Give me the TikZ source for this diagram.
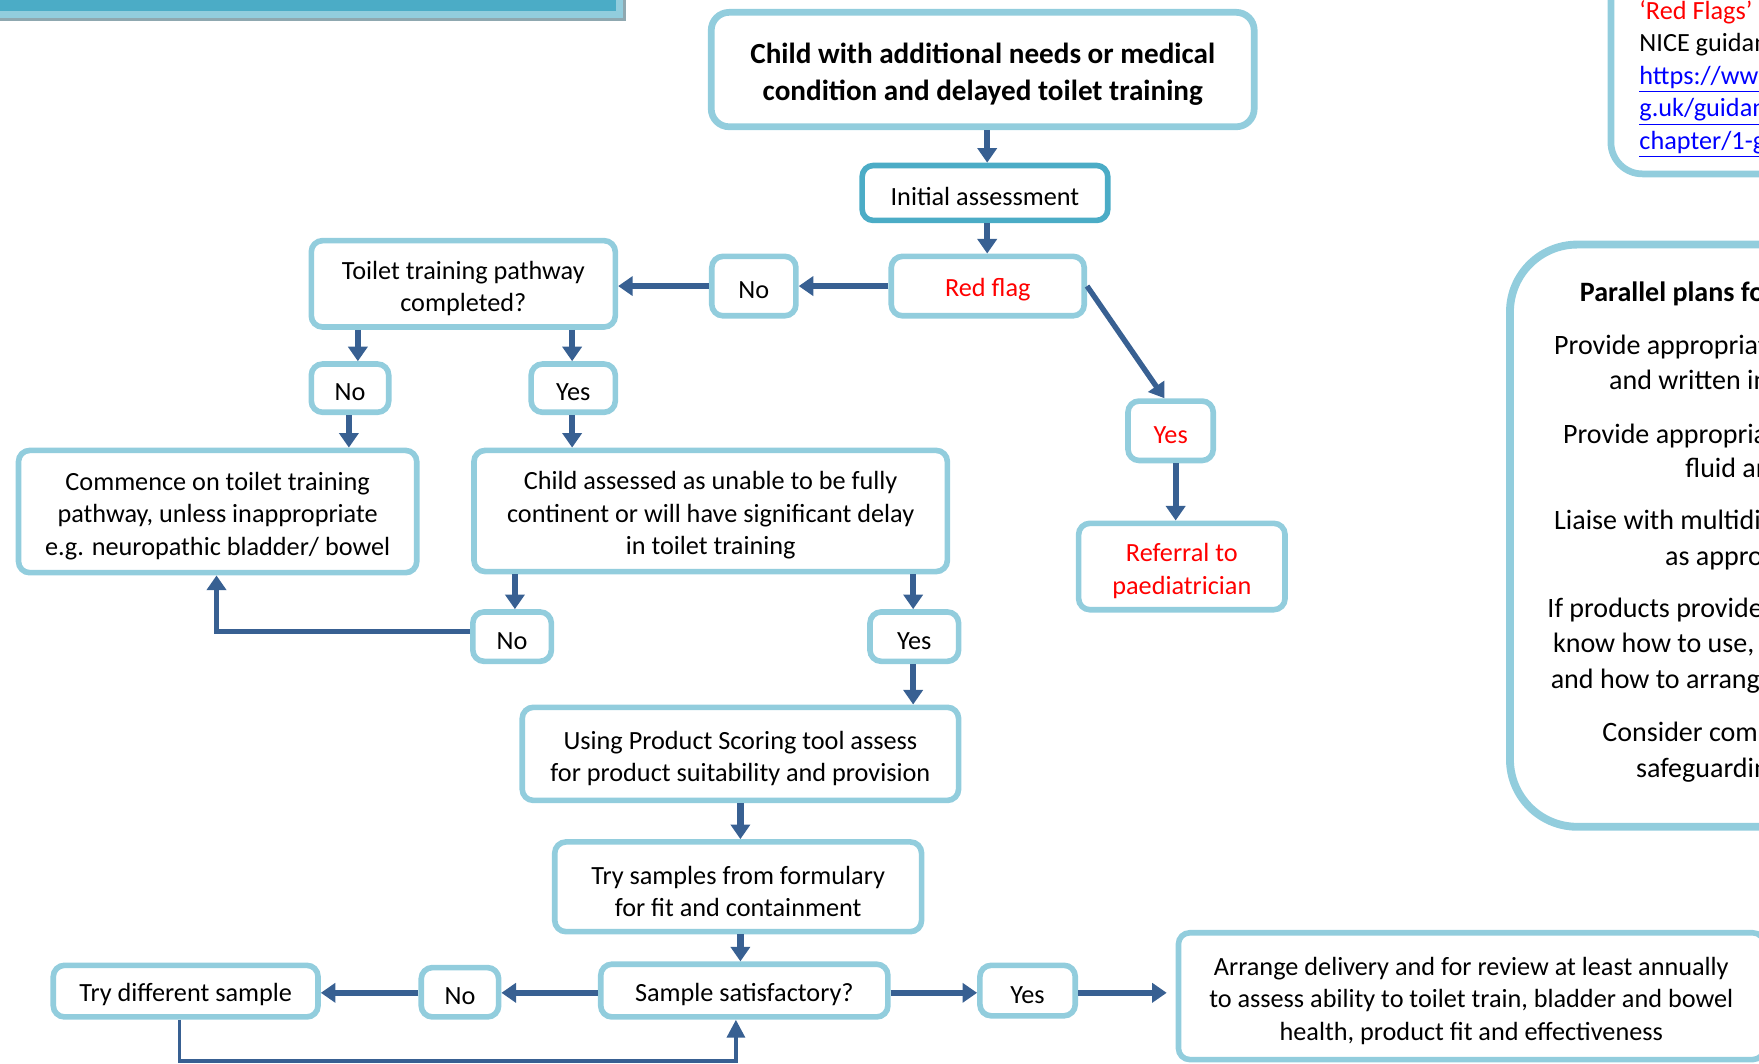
\documentclass[tikz,border=0pt]{standalone}
\usepackage{fontspec}
\setmainfont{Carlito}
\usetikzlibrary{arrows.meta}

\definecolor{boxline}{RGB}{146,205,221}
\definecolor{initline}{RGB}{75,172,198}
\definecolor{flowblue}{RGB}{56,96,146}
\definecolor{flagred}{RGB}{255,0,0}
\definecolor{linkblue}{RGB}{0,0,255}
\definecolor{bannershade}{RGB}{143,168,176}

% extra room above the first line of a multi-line box
\newcommand\liftline{\rule{0pt}{12.2pt}}

\tikzset{
  box/.style={draw=boxline, line width=2.5pt, rounded corners=5pt, fill=white,
    align=center, inner sep=0pt, font=\fontsize{11.7}{14.5}\selectfont,
    execute at begin node={\rule{0pt}{11.2pt}}},
  flow/.style={draw=flowblue, line width=2.8pt, -{Triangle[width=8.5pt,length=6.5pt]}},
  thinflow/.style={draw=flowblue, line width=1.6pt, -{Triangle[width=8pt,length=8pt]}},
  sidetext/.style={anchor=base west, inner sep=0pt, font=\fontsize{11.7}{14.5}\selectfont},
  plantext/.style={anchor=base west, inner sep=0pt, font=\fontsize{12.5}{15.5}\selectfont},
  panel/.style={draw=boxline, fill=white, inner sep=0pt},
}

\begin{document}
\begin{tikzpicture}[x=0.5pt,y=-0.5pt]
\useasboundingbox (0,0) rectangle (1568,948);

% banner strip in the top left corner
\fill[bannershade] (0,-10) rectangle (558,19);
\fill[boxline] (0,-10) rectangle (555,16);
\fill[initline] (0,-10) rectangle (549,10);

% side panel: red flags reference
\node[panel, line width=3pt, rounded corners=14pt, minimum width=200pt, minimum height=120pt,
  anchor=south west] (flagpanel) at (1433,158) {};
\node[sidetext, text=flagred] (rf1) at (1461,17.5) {‘Red Flags’};
\node[sidetext] (rf2) at (1461,46) {NICE guidance};
\node[sidetext, text=linkblue] (rf3) at (1461,75) {\underline{https://www.nice.or}};
\node[sidetext, text=linkblue] (rf4) at (1461,104) {\underline{g.uk/guidance/}};
\node[sidetext, text=linkblue] (rf5) at (1461,133) {\underline{chapter/1-guidance}};

% side panel: parallel plans
\node[panel, line width=3.5pt, rounded corners=30pt, minimum width=250pt, minimum height=259.5pt,
  anchor=north west] (plans) at (1342.5,214.5) {};
\node[plantext, font=\bfseries\fontsize{12.5}{15.5}\selectfont] (p0) at (1408,269) {Parallel plans for all children};
\node[plantext] (p1) at (1385,316) {Provide appropriate verbal};
\node[plantext] (p2) at (1434,347) {and written information};
\node[plantext] (p3) at (1393,395) {Provide appropriate advice on};
\node[plantext] (p4) at (1502,426) {fluid and diet};
\node[plantext] (p5) at (1385,472) {Liaise with multidisciplinary team};
\node[plantext] (p6) at (1484,504) {as appropriate};
\node[plantext] (p7) at (1379,550) {If products provided, ensure family};
\node[plantext] (p8) at (1384,582) {know how to use, store and dispose};
\node[plantext] (p9) at (1382,614) {and how to arrange reorders};
\node[plantext] (p10) at (1428,661) {Consider common};
\node[plantext] (p11) at (1458,693) {safeguarding};

% flowchart boxes
\node[box, line width=3pt, rounded corners=8pt, minimum width=242pt, minimum height=51pt,
  font=\bfseries\fontsize{13}{16.5}\selectfont] (top) at (876,62)
  {\rule{0pt}{13pt}Child with additional needs or medical\\condition and delayed toilet training};
\node[box, draw=initline, minimum width=109.5pt, minimum height=24.5pt] (init) at (878,172) {Initial assessment};
\node[box, text=flagred, minimum width=86pt, minimum height=26.5pt] (redflag) at (880.5,255) {Red flag};
\node[box, minimum width=37.5pt, minimum height=26.5pt] (no1) at (672,255) {No};
\node[box, minimum width=135.5pt, minimum height=38.5pt] (ttp) at (413,253) {\liftline Toilet training pathway\\completed?};
\node[box, minimum width=34.5pt, minimum height=21.5pt] (no2) at (312,346) {No};
\node[box, minimum width=37.5pt, minimum height=21.5pt] (yes2) at (511,346) {Yes};
\node[box, minimum width=177.5pt, minimum height=54.5pt] (commence) at (194,456)
  {\liftline Commence on toilet training\\pathway, unless inappropriate\\e.g. neuropathic bladder/ bowel};
\node[box, minimum width=211pt, minimum height=54pt] (assessed) at (633.5,455.5)
  {\liftline Child assessed as unable to be fully\\continent or will have significant delay\\in toilet training};
\node[box, minimum width=35pt, minimum height=22pt] (no3) at (456.5,567.5) {No};
\node[box, minimum width=39.5pt, minimum height=22pt] (yes3) at (815,567.5) {Yes};
\node[box, minimum width=194.5pt, minimum height=41.5pt] (scoring) at (660,672)
  {\liftline Using Product Scoring tool assess\\for product suitability and provision};
\node[box, minimum width=163.5pt, minimum height=40pt] (samples) at (658,790.5)
  {\liftline Try samples from formulary\\for fit and containment};
\node[box, minimum width=128pt, minimum height=23.5pt] (satisf) at (663.5,883) {Sample satisfactory?};
\node[box, minimum width=34.5pt, minimum height=22pt] (no4) at (410,884.5) {No};
\node[box, minimum width=118pt, minimum height=23pt] (trydiff) at (165.5,883.5) {Try different sample};
\node[box, minimum width=42.5pt, minimum height=22.5pt] (yes4) at (916,883) {Yes};
\node[box, minimum width=261pt, minimum height=56.5pt] (arrange) at (1311.5,888)
  {\liftline Arrange delivery and for review at least annually\\to assess ability to toilet train, bladder and bowel\\health, product fit and effectiveness};
\node[box, text=flagred, minimum width=38pt, minimum height=26.5pt] (yesR) at (1043.5,384) {Yes};
\node[box, text=flagred, minimum width=92pt, minimum height=38.5pt] (referral) at (1053.5,505)
  {\liftline Referral to\\paediatrician};

% connectors
\draw[flow] (880,0 |- top.south) -- (880,0 |- init.north);
\draw[flow] (880,0 |- init.south) -- (880,0 |- redflag.north);
\draw[flow] (redflag.west) -- (no1.east);
\draw[flow] (no1.west) -- (no1.west -| ttp.east);
\draw[flow, line width=2.4pt] (redflag.east) -- (1038,0 |- yesR.north);
\draw[flow] (1048,0 |- yesR.south) -- (1048,0 |- referral.north);
\draw[flow] (319,0 |- ttp.south) -- (319,0 |- no2.north);
\draw[flow] (510,0 |- ttp.south) -- (510,0 |- yes2.north);
\draw[flow] (311,0 |- no2.south) -- (311,0 |- commence.north);
\draw[flow] (510,0 |- yes2.south) -- (510,0 |- assessed.north);
\draw[flow] (459,0 |- assessed.south) -- (459,0 |- no3.north);
\draw[flow] (814,0 |- assessed.south) -- (814,0 |- yes3.north);
\draw[flow, line width=2.4pt] (no3.west |- 0,563) -| (193,0 |- commence.south);
\draw[flow] (814,0 |- yes3.south) -- (814,0 |- scoring.north);
\draw[flow] (660,0 |- scoring.south) -- (660,0 |- samples.north);
\draw[flow] (660,0 |- samples.south) -- (660,0 |- satisf.north);
\draw[flow] (satisf.west |- 0,885) -- (no4.east |- 0,885);
\draw[flow] (no4.west |- 0,885) -- (trydiff.east |- 0,885);
\draw[thinflow] (160,0 |- trydiff.south) |- (656,946) -- (656,0 |- satisf.south);
\draw[flow] (satisf.east |- 0,885) -- (yes4.west |- 0,885);
\draw[flow] (yes4.east |- 0,885) -- (1040,885);
\end{tikzpicture}
\end{document}
